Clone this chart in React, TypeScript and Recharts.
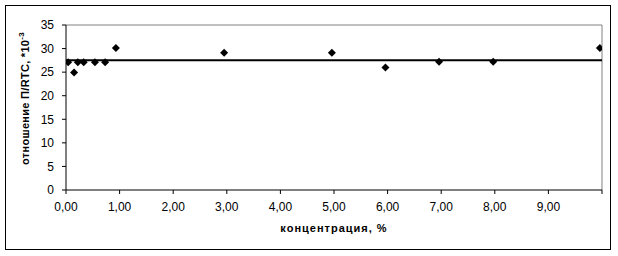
import { ScatterChart, Scatter, XAxis, YAxis, ReferenceLine } from "recharts";

// концентрация, %
const concentration = [0.04, 0.15, 0.22, 0.33, 0.54, 0.73, 0.93, 2.95, 4.96, 5.96, 6.96, 7.97, 9.96];
// отношение П/RTC, *10^-3
const ratio = [27.1, 24.9, 27.1, 27.1, 27.1, 27.1, 30.1, 29.1, 29.1, 26.0, 27.2, 27.2, 30.1];
// horizontal average line
const meanX = [0, 10];
const meanY = [27.5, 27.5];

const xTicks = [0, 1, 2, 3, 4, 5, 6, 7, 8, 9, 10];
const yTicks = [0, 5, 10, 15, 20, 25, 30, 35];

const points = concentration.map((x, i) => ({ x, y: ratio[i] }));
const meanLine = meanX.map((x, i) => ({ x, y: meanY[i] }));

const font = "'Liberation Sans', Arial, sans-serif";

const Diamond = (props: any) => {
  const { cx, cy } = props;
  if (cx == null || cy == null) return null;
  return (
    <polygon
      points={`${cx},${cy - 4} ${cx + 4},${cy} ${cx},${cy + 4} ${cx - 4},${cy}`}
      fill="#000"
    />
  );
};

const NoDot = () => null;

export default function App() {
  return (
    <div
      style={{
        position: "absolute",
        left: 0,
        top: 0,
        width: 618,
        height: 256,
        background: "#fff",
        fontFamily: font,
      }}
    >
      <div
        style={{
          position: "absolute",
          left: 5,
          top: 5,
          width: 604,
          height: 243,
          border: "1px solid #000",
        }}
      />
      <div style={{ position: "absolute", left: 0, top: 0 }}>
        <ScatterChart
          width={618}
          height={256}
          margin={{ top: 25, right: 16, bottom: 26, left: 0 }}
        >
          <XAxis
            type="number"
            dataKey="x"
            domain={[0, 10]}
            ticks={xTicks}
            interval={0}
            allowDataOverflow
            stroke="#000"
            tickSize={4}
            tickMargin={8}
            height={40}
            tick={{ fill: "#000", fontSize: 12, fontFamily: font }}
            tickFormatter={(v: number) => (v === 10 ? "" : v.toFixed(2).replace(".", ","))}
            label={{
              value: "концентрация, %",
              position: "insideBottom",
              offset: -2,
              fill: "#000",
              fontSize: 11,
              fontWeight: "bold",
              fontFamily: font,
              style: { letterSpacing: "1px" },
            }}
          />
          <YAxis
            type="number"
            dataKey="y"
            domain={[0, 35]}
            ticks={yTicks}
            interval={0}
            stroke="#000"
            tickSize={4}
            tickMargin={8}
            width={66}
            tick={{ fill: "#000", fontSize: 12, fontFamily: font }}
            label={(p: any) => {
              const vb = p.viewBox;
              const cx = 25;
              const cy = vb.y + vb.height / 2 - 9;
              return (
                <text
                  x={cx}
                  y={cy}
                  transform={`rotate(-90, ${cx}, ${cy})`}
                  textAnchor="middle"
                  dominantBaseline="central"
                  fill="#000"
                  fontSize={11}
                  fontWeight="bold"
                  fontFamily={font}
                  style={{ letterSpacing: "0.3px" }}
                >
                  отношение П/RTC, *10
                  <tspan dy={-4} fontSize={8}>
                    -3
                  </tspan>
                </text>
              );
            }}
          />
          <ReferenceLine y={35} stroke="#808080" strokeWidth={1} />
          <ReferenceLine x={10} stroke="#808080" strokeWidth={1} />
          <Scatter
            data={meanLine}
            line={{ stroke: "#000", strokeWidth: 2 }}
            shape={NoDot}
            isAnimationActive={false}
          />
          <Scatter data={points} shape={Diamond} isAnimationActive={false} />
        </ScatterChart>
      </div>
    </div>
  );
}
